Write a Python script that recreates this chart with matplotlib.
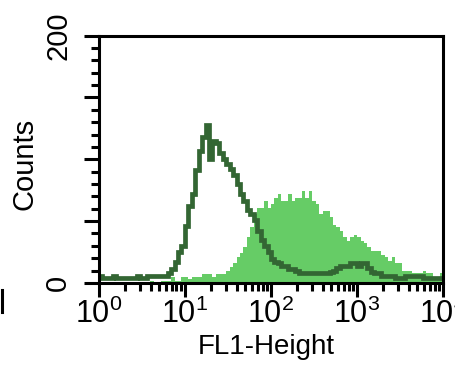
import numpy as np
import matplotlib.pyplot as plt
from matplotlib.lines import Line2D
from matplotlib.ticker import MultipleLocator, NullFormatter, LogLocator

plt.rcParams['font.family'] = ['Liberation Sans', 'DejaVu Sans']
plt.rcParams['mathtext.fontset'] = 'custom'
plt.rcParams['mathtext.rm'] = 'Liberation Sans'

# 100 log-spaced channels over 4 decades
edges = np.logspace(0, 4, 101)

# control (outline)
control = [6, 4, 4, 4, 6, 4, 4, 4, 4, 4, 4, 6, 4, 4, 6, 6, 6, 6, 6, 6,
           8, 11, 17, 25, 30, 46, 62, 72, 91, 107,
           118, 128, 100, 115, 113, 105, 100, 96, 92, 87,
           80, 72, 66, 59, 56, 51, 42, 35, 30, 25,
           19, 17, 16, 14, 14, 11, 11, 10, 8, 8,
           8, 8, 8, 8, 8, 8, 8, 9, 10, 12,
           14, 14, 14, 16, 16, 14, 16, 16, 12, 9,
           8, 8, 6, 6, 6, 6, 4, 4, 4, 6,
           6, 6, 6, 6, 4, 4, 4, 4, 4, 4]

# stained sample (filled)
stained = [1, 1, 1, 1, 1, 1, 1, 1, 1, 1, 1, 1, 1, 1, 1, 2, 1, 1, 2, 2,
           2, 5, 2, 2, 5, 5, 3, 5, 5, 5,
           7.5, 7.5, 7.5, 5, 7.5, 7.5, 7.5, 10, 13, 16,
           21, 24, 29, 37, 45, 56, 61, 61, 66, 61,
           64, 69, 72, 66, 66, 72, 66, 69, 69, 74,
           69, 74, 66, 64, 56, 58, 58, 53, 47, 45,
           42, 37, 34, 37, 39, 37, 34, 32, 29, 26,
           26, 26, 23, 21, 18, 21, 16, 16, 10, 10,
           10, 8, 8, 8, 10, 8, 8, 5, 5, 8]

fig = plt.figure(figsize=(4.55, 3.65), dpi=100)
ax = fig.add_axes([0.217, 0.2247, 0.757, 0.678])

ax.stairs(stained, edges, fill=True, color='#66cc66', lw=0)
ax.stairs(control, edges, color='#336633', lw=3.4, baseline=None)

ax.set_xscale('log')
ax.set_xlim(1, 1e4)
ax.set_ylim(0, 200)

for s in ax.spines.values():
    s.set_linewidth(2.2)
    s.set_zorder(5)

ax.xaxis.set_major_locator(LogLocator(base=10, numticks=10))
ax.xaxis.set_minor_locator(LogLocator(base=10, subs=np.arange(2, 10), numticks=10))
ax.xaxis.set_minor_formatter(NullFormatter())

ax.set_yticks([0, 50, 100, 150, 200])
ax.set_yticklabels(['0', '', '', '', '200'], rotation=90, va='center')
ax.yaxis.set_minor_locator(MultipleLocator(10))

ax.tick_params(axis='y', which='major', length=11, width=2.2, labelsize=21, pad=8)
ax.tick_params(axis='y', which='minor', length=6, width=2.2)
ax.tick_params(axis='x', which='major', length=10, width=2.2, labelsize=22, pad=1)
ax.tick_params(axis='x', which='minor', length=6, width=2.2)

ax.set_xlabel('FL1-Height', fontsize=20)
ax.xaxis.set_label_coords(0.485, -0.205)
ax.set_ylabel('Counts', fontsize=21)
ax.yaxis.set_label_coords(-0.175, 0.48)

# stray mark at the left edge
fig.add_artist(Line2D([0.004, 0.004], [1 - 290 / 365, 1 - 312 / 365],
                      transform=fig.transFigure, color='k', lw=2.2))

fig.savefig('out.png', dpi=100)
